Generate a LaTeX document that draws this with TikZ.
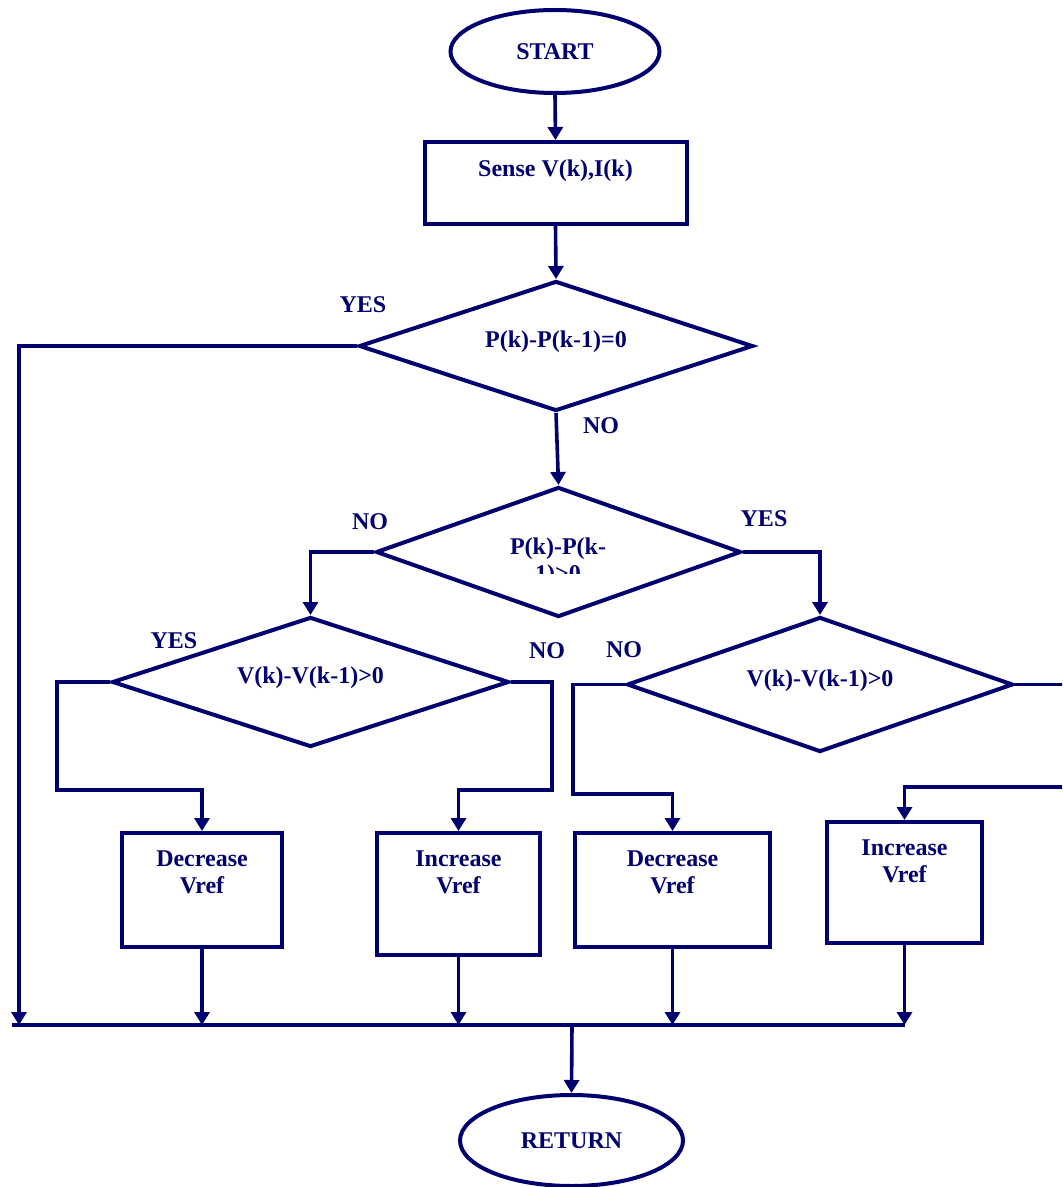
\documentclass[tikz,border=0pt]{standalone}
\usepackage{fontspec}
\setmainfont{Liberation Serif}
\usetikzlibrary{shapes.geometric,arrows.meta}
\definecolor{flowline}{RGB}{0,0,110}
\tikzstyle{every node}=[font=\fontsize{12}{13.5}\selectfont\bfseries, text=flowline]
\tikzstyle{terminal}=[draw=flowline, ellipse, line width=2pt, inner sep=0pt]
\tikzstyle{process}=[draw=flowline, rectangle, line width=2pt, inner sep=0pt]
\tikzstyle{decision}=[draw=flowline, diamond, aspect=3, line width=2pt, inner sep=0pt, text height=8.6pt, text depth=7pt]
\tikzstyle{boxtext}=[anchor=north, align=center, inner sep=0pt]
\tikzstyle{answer}=[inner sep=0pt]
\tikzstyle{flow}=[draw=flowline, line width=1.8pt, -{Triangle[length=6.5pt,width=7.5pt]}]
\tikzstyle{bus}=[draw=flowline, line width=2.4pt]

\begin{document}
\begin{tikzpicture}[x=0.5pt, y=-0.5pt]
    \useasboundingbox (0,0) rectangle (1062,1187);
    \clip (0,0) rectangle (1062,1187);

    % start and sensing
    \node[terminal, minimum width=104.5pt, minimum height=41.5pt] (start) at (555,51.5) {START};
    \node[process, minimum width=131pt, minimum height=41pt] (sense) at (555.5,183) {};
    \node[boxtext] (senset) at ([yshift=-9.5pt]sense.north) {Sense V(k),I(k)};

    % decisions
    \node[decision, minimum width=197pt, minimum height=65pt] (dp0) at (556,346) {P(k)-P(k-1)=0};
    \node[decision, minimum width=182.5pt, minimum height=65pt] (dp) at (558.5,552) {};
    \begin{scope}
        \clip (450,500) rectangle (670,573);
        \node[boxtext] (dpt) at (558,537) {P(k)-P(k-\\1)>0};
    \end{scope}
    \node[decision, minimum width=198.5pt, minimum height=65pt] (dvl) at (310.5,682) {V(k)-V(k-1)>0};
    \node[decision, minimum width=193pt, minimum height=67.5pt] (dvr) at (820,684.5) {V(k)-V(k-1)>0};

    % actions
    \node[process, minimum width=80pt, minimum height=57pt] (decl) at (202,890) {};
    \node[boxtext] (declt) at ([yshift=-9.5pt]decl.north) {Decrease\\Vref};
    \node[process, minimum width=81.5pt, minimum height=61pt] (incl) at (458.5,894) {};
    \node[boxtext] (inclt) at ([yshift=-9.5pt]incl.north) {Increase\\Vref};
    \node[process, minimum width=97.5pt, minimum height=57pt] (decr) at (672.5,890) {};
    \node[boxtext] (decrt) at ([yshift=-9.5pt]decr.north) {Decrease\\Vref};
    \node[process, minimum width=77.5pt, minimum height=60.5pt] (incr) at (904.5,882.5) {};
    \node[boxtext] (incrt) at ([yshift=-9.5pt]incr.north) {Increase\\Vref};

    \node[terminal, minimum width=111.5pt, minimum height=45.5pt] (ret) at (571.5,1140.5) {RETURN};

    % branch answers
    \node[answer] (yes0) at (363,305) {YES};
    \node[answer] (no0) at (601,426) {NO};
    \node[answer] (nop) at (370,522) {NO};
    \node[answer] (yesp) at (764,519) {YES};
    \node[answer] (yesvl) at (174,641) {YES};
    \node[answer] (novl) at (547,651) {NO};
    \node[answer] (novr) at (624,650) {NO};

    % bends and bus
    \coordinate (rail) at (19,1025);
    \coordinate (busw) at (12,1025);
    \coordinate (buse) at (905,1025);
    \coordinate (busout) at (572,1025);
    \coordinate (bendll) at (57,790);
    \coordinate (bendlr) at (552,790);
    \coordinate (bendrl) at (573,794);
    \coordinate (bendrr) at (1080,787);

    \draw[flow] (start.south) -- (sense.north);
    \draw[flow] (sense.south) -- (dp0.north);
    \draw[flow] (dp0.south) -- (dp.north);
    \draw[flow] (dp0.west) -| (rail);
    \draw[flow] (dp.west) -| (dvl.north);
    \draw[flow] (dp.east) -| (dvr.north);
    \draw[flow] (dvl.west) -| (bendll) -| (decl.north);
    \draw[flow] (dvl.east) -| (bendlr) -| (incl.north);
    \draw[flow] (dvr.west) -| (bendrl) -| (decr.north);
    \draw[flow] (dvr.east) -| (bendrr) -| (incr.north);

    \draw[bus] (busw) -- (buse);
    \draw[flow] (decl.south) -- (decl.south |- busw);
    \draw[flow] (incl.south) -- (incl.south |- busw);
    \draw[flow] (decr.south) -- (decr.south |- busw);
    \draw[flow] (incr.south) -- (incr.south |- busw);
    \draw[flow] (busout) -- (ret.north);
\end{tikzpicture}
\end{document}
